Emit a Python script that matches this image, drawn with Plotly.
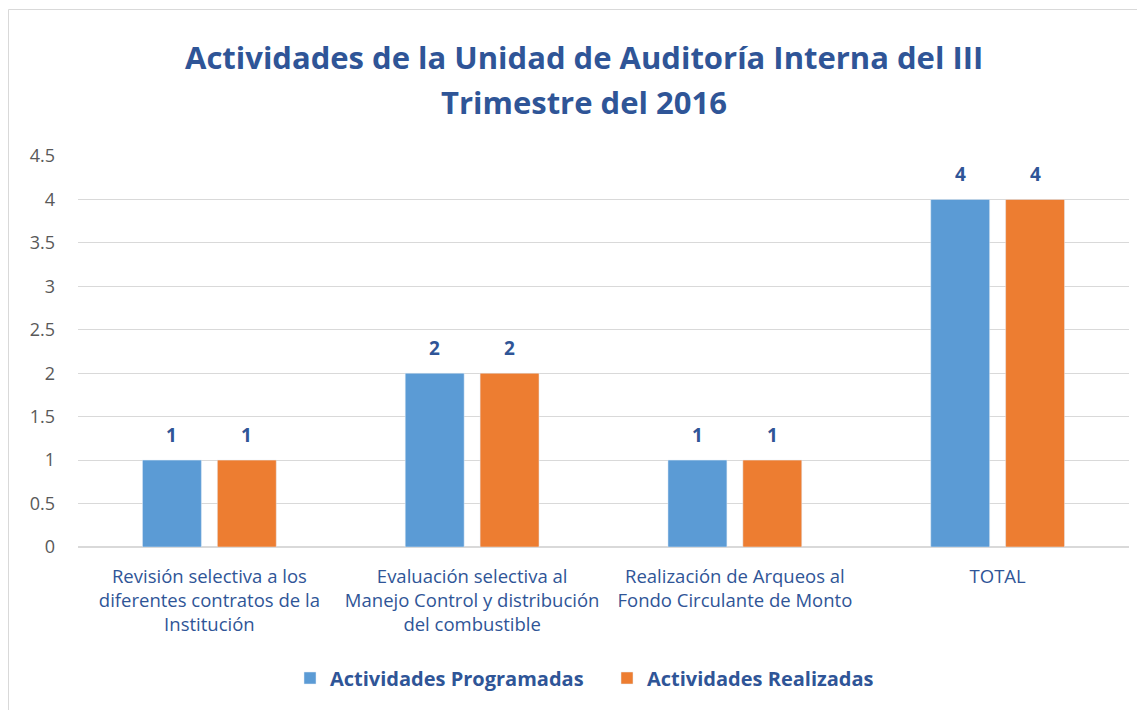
import plotly.graph_objects as go

categories = [
    "Revisión selectiva a los<br>diferentes contratos de la<br>Institución",
    "Evaluación selectiva al<br>Manejo Control y distribución<br>del combustible",
    "Realización de Arqueos al<br>Fondo Circulante de Monto",
    "TOTAL",
]
programadas = [1, 2, 1, 4]
realizadas = [1, 2, 1, 4]
y_ticks = [0, 0.5, 1, 1.5, 2, 2.5, 3, 3.5, 4, 4.5]
title_lines = ["Actividades de la Unidad de Auditoría Interna del III", "Trimestre del 2016"]

blue_text = "#2F5597"
font_family = "Open Sans, Liberation Sans, sans-serif"

# page body adds an 8px offset; positions below are in figure pixels
OFF = 8
W, H = 1145, 710
ML, MR, MT, MB = 78 - OFF, W - (1129 - OFF), 156 - OFF, H - (547 - OFF)
BARGAP, GROUPGAP = 0.43, 0.213
plot_w = W - ML - MR
plot_h = H - MT - MB
slot_px = plot_w / len(categories) * (1 - BARGAP) / 2

fig = go.Figure()
series = [("Actividades Programadas", programadas, "#5B9BD5", -1),
          ("Actividades Realizadas", realizadas, "#ED7D31", 1)]
annotations = []
for name, vals, color, side in series:
    fig.add_trace(go.Bar(name=name, x=categories, y=vals, marker_color=color))
    for c, v in zip(categories, vals):
        annotations.append(dict(
            x=c, y=v, xref="x", yref="y", text=f"<b>{v:g}</b>", showarrow=False,
            xshift=side * slot_px / 2, yshift=25, yanchor="middle",
            font=dict(size=19, color=blue_text, family=font_family),
        ))

for i, line in enumerate(title_lines):
    annotations.append(dict(
        xref="paper", yref="paper", x=(584 - OFF - ML) / plot_w,
        y=1 + (MT - (57 - OFF) - 45 * i) / plot_h,
        text=f"<b>{line}</b>", showarrow=False, xanchor="center", yanchor="middle",
        font=dict(size=31, color=blue_text, family=font_family),
    ))

fig.update_layout(
    width=W, height=H,
    margin=dict(l=ML, r=MR, t=MT, b=MB, autoexpand=False),
    paper_bgcolor="white", plot_bgcolor="white",
    barmode="group", bargap=BARGAP, bargroupgap=GROUPGAP,
    font=dict(family=font_family),
    showlegend=True,
    legend=dict(
        orientation="h", x=(607 - OFF - ML) / plot_w, xanchor="center",
        y=-((678 - OFF) - (H - MB)) / plot_h, yanchor="middle",
        font=dict(size=20, color=blue_text, family=font_family, weight="bold"),
        itemwidth=30, traceorder="normal", entrywidth=272,
    ),
    annotations=annotations,
    shapes=[dict(
        type="rect", xref="paper", yref="paper",
        x0=-(ML - 0.5) / plot_w, x1=1 + (MR + 5) / plot_w,
        y0=-(MB - 2) / plot_h, y1=1 + (MT - 1.5) / plot_h,
        line=dict(color="#D9D9D9", width=1), fillcolor="rgba(0,0,0,0)",
    )],
)
fig.update_yaxes(
    range=[0, 4.5], tickvals=y_ticks, ticktext=[f"{v:g}" for v in y_ticks],
    showgrid=True, gridcolor="#D9D9D9", gridwidth=1,
    zeroline=True, zerolinecolor="#D9D9D9",
    tickfont=dict(size=18, color="#595959", family=font_family),
    ticks="", ticklen=0, ticklabelstandoff=22, automargin=False,
)
fig.update_xaxes(
    showline=True, linecolor="#D9D9D9",
    tickfont=dict(size=18.5, color=blue_text, family=font_family),
    ticks="", tickangle=0, automargin=False, ticklabelstandoff=13,
)

fig.write_html("out.html")
